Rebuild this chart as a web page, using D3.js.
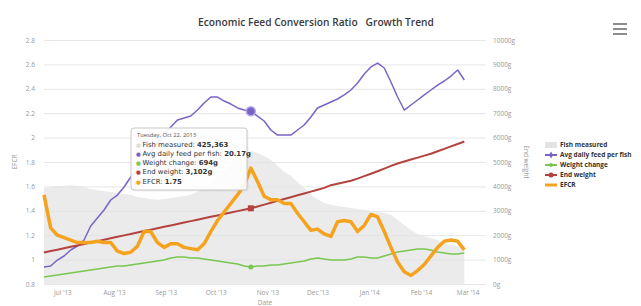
<!DOCTYPE html>
<html>
<head>
<meta charset="utf-8">
<script src="https://cdn.jsdelivr.net/npm/d3@7"></script>
<style>
body { margin: 0; background: #fff; }
text { font-family: "Open Sans", "Liberation Sans", sans-serif; }
</style>
</head>
<body>
<script>
// readings: one every 4 days starting 20 Jun 2013
var firstDay = "2013-06-20", stepDays = 4;

var efcr = [1.53,1.26,1.20,1.18,1.16,1.14,1.14,1.14,1.15,1.14,1.14,1.07,1.05,1.06,1.11,1.23,
            1.23,1.14,1.10,1.13,1.13,1.10,1.09,1.08,1.13,1.23,1.32,1.39,1.46,1.53,1.61,1.75,
            1.64,1.52,1.49,1.49,1.46,1.46,1.38,1.31,1.24,1.25,1.21,1.19,1.31,1.32,1.31,1.23,
            1.28,1.37,1.35,1.23,1.10,0.98,0.90,0.87,0.91,0.96,1.03,1.10,1.15,1.16,1.15,1.08];

var avgFeed = [1.99,2.10,2.80,3.27,3.97,4.44,5.14,6.77,7.71,8.64,9.81,10.39,11.33,12.50,13.32,14.25,
               15.42,16.47,17.52,18.34,19.16,19.39,19.62,20.32,21.14,21.84,21.84,21.37,21.02,20.56,20.32,20.17,
               19.62,19.04,17.99,17.40,17.40,17.40,17.99,18.57,19.51,20.56,20.91,21.26,21.61,22.08,22.66,23.48,
               24.53,25.35,25.81,25.23,23.59,21.84,20.32,20.91,21.49,22.08,22.66,23.24,23.71,24.29,25.00,23.83];

var weightChange = [287,328,369,410,451,492,533,574,615,656,697,738,738,779,820,861,
                    902,943,984,1066,1107,1107,1066,1066,1025,984,943,902,861,820,738,694,
                    738,738,779,779,820,861,902,943,1025,1066,1025,984,984,984,1025,1107,
                    1107,1066,1066,1148,1230,1312,1353,1394,1435,1435,1394,1312,1271,1230,1230,1271];

var endWeight = [1290,1350,1407,1465,1524,1582,1641,1700,1758,1817,1875,1934,1992,2050,2109,2168,
                 2226,2285,2343,2400,2460,2518,2577,2636,2694,2752,2811,2870,2928,2986,3045,3102,
                 3178,3254,3330,3406,3482,3558,3634,3710,3786,3862,3940,4050,4110,4170,4230,4320,
                 4420,4520,4620,4730,4840,4940,5020,5100,5180,5260,5340,5440,5540,5640,5740,5840];

var fishMeasured = [307000,310000,313000,313000,316000,313000,310000,304000,300000,297000,294000,291000,288000,285000,278000,275000,
                    272000,269000,272000,275000,278000,281000,285000,294000,307000,316000,339000,358000,380000,396000,412000,425363,
                    419000,409000,396000,377000,358000,345000,326000,307000,285000,272000,259000,253000,249000,246000,243000,240000,
                    237000,233000,230000,227000,221000,205000,189000,173000,160000,153000,147000,141000,131000,125000,121000,118000];

var efcrTicks = [0.8,1,1.2,1.4,1.6,1.8,2,2.2,2.4,2.6,2.8];
var weightTicks = [0,1000,2000,3000,4000,5000,6000,7000,8000,9000,10000];
var monthTicks = ["2013-07-01","2013-08-01","2013-09-01","2013-10-01","2013-11-01","2013-12-01","2014-01-01","2014-02-01","2014-03-01"];

var seriesNames = ["Fish measured","Avg daily feed per fish","Weight change","End weight","EFCR"];
var seriesColors = ["#e3e3e3","#7b63c6","#79c650","#b3433f","#f5a31f"];
var hoverIndex = 31;

var width = 641, height = 306,
    plotLeft = 44, plotRight = 486, plotTop = 40, plotBottom = 284;

var parse = d3.timeParse("%Y-%m-%d");
var start = parse(firstDay);
var dates = efcr.map(function(d, i) { return d3.timeDay.offset(start, i * stepDays); });

var x = d3.scaleTime().domain([start, parse("2014-03-12")]).range([plotLeft, plotRight]);
var yL = d3.scaleLinear().domain([0.8, 2.8]).range([plotBottom, plotTop]);
var yR = d3.scaleLinear().domain([0, 10000]).range([plotBottom, plotTop]);
var yFeed = d3.scaleLinear().domain([0, 28.5]).range([plotBottom, plotTop]);   // hidden axis
var yFish = d3.scaleLinear().domain([0, 780000]).range([plotBottom, plotTop]); // hidden axis

var svg = d3.select("body").append("svg")
    .attr("width", width)
    .attr("height", height);

// title
svg.append("text")
    .attr("x", 316).attr("y", 26)
    .attr("text-anchor", "middle")
    .style("font-size", "10.2px").style("font-weight", 600).style("white-space", "pre").attr("fill", "#3a3a3a")
    .text("Economic Feed Conversion Ratio   Growth Trend");

// hamburger
[24, 29, 34].forEach(function(yy) {
    svg.append("line").attr("x1", 613).attr("x2", 627).attr("y1", yy).attr("y2", yy)
       .attr("stroke", "#666").attr("stroke-width", 1.5);
});

// left axis + grid
var gL = svg.append("g").attr("transform", "translate(" + plotLeft + ",0)")
    .call(d3.axisLeft(yL).tickValues(efcrTicks).tickSize(-(plotRight - plotLeft)).tickPadding(9).tickFormat(d3.format("")));
gL.select(".domain").remove();
gL.selectAll("line").attr("stroke", "#e6e6e6");
gL.selectAll("text").attr("fill", "#999").style("font-size", "6.5px");

// right axis
var gR = svg.append("g").attr("transform", "translate(" + plotRight + ",0)")
    .call(d3.axisRight(yR).tickValues(weightTicks).tickSize(0).tickPadding(7).tickFormat(function(d) { return d + "g"; }));
gR.select(".domain").remove();
gR.selectAll("text").attr("fill", "#999").style("font-size", "6.5px");

// x axis
var gX = svg.append("g").attr("transform", "translate(0," + plotBottom + ")")
    .call(d3.axisBottom(x).tickValues(monthTicks.map(parse)).tickSize(0).tickPadding(6).tickFormat(d3.timeFormat("%b '%y")));
gX.select(".domain").remove();
gX.selectAll("text").attr("fill", "#999").style("font-size", "6.5px");

// axis titles
svg.append("text").attr("transform", "translate(17,162) rotate(-90)").attr("text-anchor", "middle")
    .style("font-size", "6.5px").attr("fill", "#999").text("EFCR");
svg.append("text").attr("transform", "translate(524,162) rotate(90)").attr("text-anchor", "middle")
    .style("font-size", "6.5px").attr("fill", "#999").text("End weight");
svg.append("text").attr("x", 265).attr("y", 304.5).attr("text-anchor", "middle")
    .style("font-size", "6.5px").attr("fill", "#999").text("Date");

// fish measured area
svg.append("path")
    .datum(fishMeasured)
    .attr("fill", seriesColors[0]).attr("fill-opacity", 0.7)
    .attr("d", d3.area()
        .x(function(d, i) { return x(dates[i]); })
        .y0(plotBottom)
        .y1(function(d) { return yFish(d); }));

function drawLine(values, scale, color, w) {
    svg.append("path")
        .datum(values)
        .attr("fill", "none")
        .attr("stroke", color)
        .attr("stroke-width", w)
        .attr("stroke-linejoin", "round")
        .attr("d", d3.line()
            .x(function(d, i) { return x(dates[i]); })
            .y(function(d) { return scale(d); }));
}

drawLine(avgFeed, yFeed, seriesColors[1], 1.5);
drawLine(weightChange, yR, seriesColors[2], 1.5);
drawLine(endWeight, yR, seriesColors[3], 2);
drawLine(efcr, yL, seriesColors[4], 3.5);

// hover markers
var hx = x(dates[hoverIndex]);
svg.append("circle").attr("cx", hx).attr("cy", yFeed(avgFeed[hoverIndex])).attr("r", 4.5)
    .attr("fill", seriesColors[1]).attr("stroke", "#b3a8e6").attr("stroke-width", 1.5);
svg.append("circle").attr("cx", hx).attr("cy", yR(weightChange[hoverIndex])).attr("r", 2.5)
    .attr("fill", seriesColors[2]);
svg.append("rect").attr("x", hx - 3).attr("y", yR(endWeight[hoverIndex]) - 3).attr("width", 6).attr("height", 6)
    .attr("fill", seriesColors[3]);

// tooltip
var tip = svg.append("g").attr("transform", "translate(131,128)");
tip.append("rect").attr("x", 1.5).attr("y", 1.5).attr("width", 116).attr("height", 62).attr("rx", 3)
    .attr("fill", "#000").attr("fill-opacity", 0.06);
tip.append("rect").attr("width", 116).attr("height", 62).attr("rx", 3)
    .attr("fill", "#fff").attr("fill-opacity", 0.9).attr("stroke", "#c8c8c8").attr("stroke-width", 1);
tip.append("text").attr("x", 6).attr("y", 9).style("font-size", "5.8px").attr("fill", "#555")
    .text(d3.timeFormat("%A, %b %d, %Y")(dates[hoverIndex]));

var tipValues = [
    d3.format(",")(fishMeasured[hoverIndex]),
    d3.format(".2f")(avgFeed[hoverIndex]) + "g",
    d3.format(",")(weightChange[hoverIndex]) + "g",
    d3.format(",")(endWeight[hoverIndex]) + "g",
    d3.format(".2f")(efcr[hoverIndex])
];
tipValues.forEach(function(v, i) {
    var t = tip.append("text").attr("x", 5).attr("y", 18.5 + i * 9.3)
        .style("font-family", "'DejaVu Sans', sans-serif").style("font-size", "6.9px").attr("fill", "#333");
    t.append("tspan").attr("fill", i == 0 ? "#ddd" : seriesColors[i]).style("font-size", "5.5px").text("\u25CF ");
    t.append("tspan").text(seriesNames[i] + ": ");
    t.append("tspan").style("font-weight", 700).text(v);
});

// legend
var leg = svg.append("g").attr("transform", "translate(545,145)");
seriesNames.forEach(function(name, i) {
    var row = leg.append("g").attr("transform", "translate(0," + (i * 10) + ")");
    if (i == 0) {
        row.append("rect").attr("x", 0).attr("y", -3).attr("width", 12).attr("height", 6).attr("fill", seriesColors[0]);
    } else {
        row.append("line").attr("x1", 0).attr("x2", 12).attr("y1", 0).attr("y2", 0)
           .attr("stroke", seriesColors[i]).attr("stroke-width", i == 4 ? 3 : 2);
        if (i == 1) row.append("path").attr("d", d3.symbol(d3.symbolDiamond, 14)()).attr("transform", "translate(6,0)").attr("fill", seriesColors[i]);
        if (i == 2) row.append("circle").attr("cx", 6).attr("r", 2).attr("fill", seriesColors[i]);
        if (i == 3) row.append("circle").attr("cx", 6).attr("r", 2.5).attr("fill", seriesColors[i]);
    }
    row.append("text").attr("x", 15).attr("y", 2.3).style("font-size", "6.5px").style("font-weight", 700)
       .attr("fill", "#333").text(name);
});
</script>
</body>
</html>
